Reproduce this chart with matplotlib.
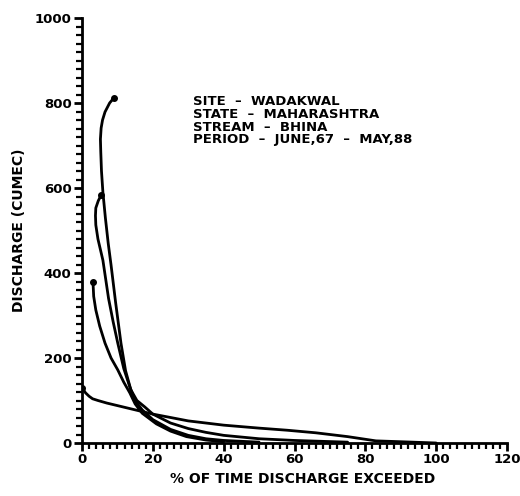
import matplotlib
matplotlib.use("Agg")
import matplotlib.pyplot as plt
from matplotlib.ticker import MultipleLocator

# Flow duration curves (% of time exceeded, discharge in cumec)
xa = [9.0, 7.8, 6.5, 5.8, 5.4, 5.2, 5.3, 5.5, 5.9, 6.6, 7.4, 8.2, 9.5, 11.0, 12.3,
      13.8, 15.5, 17.7, 20, 25, 30, 35, 40, 50, 60, 75]
ya = [812, 800, 779, 760, 741, 715, 685, 640, 590, 530, 470, 419, 330, 235, 170,
      125, 100, 85, 68, 47, 34, 25, 18, 10, 6, 2]

xb = [5.4, 4.6, 3.9, 3.8, 3.9, 4.5, 5.9, 7.5, 8.8, 10.1, 11.8, 13.5, 15, 17, 20,
      25, 30, 35, 40, 50]
yb = [583, 570, 553, 535, 513, 480, 430, 340, 285, 235, 175, 132, 100, 78, 55,
      32, 18, 10, 6, 2]

xc = [3.1, 3.3, 3.9, 5.0, 6.5, 8.2, 10.1, 11.8, 13.5, 15, 17, 21, 25, 29.5, 35, 40]
yc = [379, 345, 313, 275, 235, 200, 172, 143, 118, 92, 70, 45, 28, 15, 7, 3]

xd = [0, 1, 2, 3, 4.5, 7, 10, 14, 17, 20, 25, 30, 35, 40, 50, 58, 66, 75, 83, 90, 100]
yd = [130, 118, 110, 104, 100, 94, 88, 80, 74, 68, 60, 52, 47, 42, 35, 30, 24, 15, 5, 3, 0]

series = [(xa, ya), (xb, yb), (xc, yc), (xd, yd)]

info_lines = ["SITE  \u2013  WADAKWAL",
              "STATE  \u2013  MAHARASHTRA",
              "STREAM  \u2013  BHINA",
              "PERIOD  \u2013  JUNE,67  \u2013  MAY,88"]

xlabel = "% OF TIME DISCHARGE EXCEEDED"
ylabel = "DISCHARGE (CUMEC)"

plt.rcParams['font.family'] = ['Liberation Sans Narrow', 'DejaVu Sans']
plt.rcParams['font.weight'] = 'bold'

fig = plt.figure(figsize=(5.2, 4.96), dpi=100)
ax = fig.add_axes([82/520, 1 - 443/496, (507-82)/520, (443-18)/496])

for xs, ys in series:
    ax.plot(xs, ys, color='black', lw=2.0, solid_capstyle='round',
            solid_joinstyle='round')
    ax.plot(xs[0], ys[0], marker='o', color='black', ms=4)

ax.set_xlim(0, 120)
ax.set_ylim(0, 1000)
ax.xaxis.set_major_locator(MultipleLocator(20))
ax.xaxis.set_minor_locator(MultipleLocator(2))
ax.yaxis.set_major_locator(MultipleLocator(200))
ax.yaxis.set_minor_locator(MultipleLocator(20))
ax.spines['top'].set_visible(False)
ax.spines['right'].set_visible(False)
ax.spines['left'].set_linewidth(2)
ax.spines['bottom'].set_linewidth(2)
ax.tick_params(which='major', length=6, width=2, labelsize=9.5, pad=1.5)
ax.tick_params(which='minor', length=4, width=1.6)
for lab in ax.get_xticklabels() + ax.get_yticklabels():
    lab.set_fontweight('bold')

ax.set_xlabel(xlabel, fontsize=10, fontweight='bold', labelpad=0)
ax.xaxis.set_label_coords(0.52, -0.068)
ax.set_ylabel(ylabel, fontsize=10, fontweight='bold', labelpad=6)

for i, line in enumerate(info_lines):
    ax.text(0.262, 0.803 - i * 0.030, line, transform=ax.transAxes,
            fontsize=9.5, fontweight='bold', va='center', ha='left')

fig.savefig("out.png", dpi=100, facecolor='white')
